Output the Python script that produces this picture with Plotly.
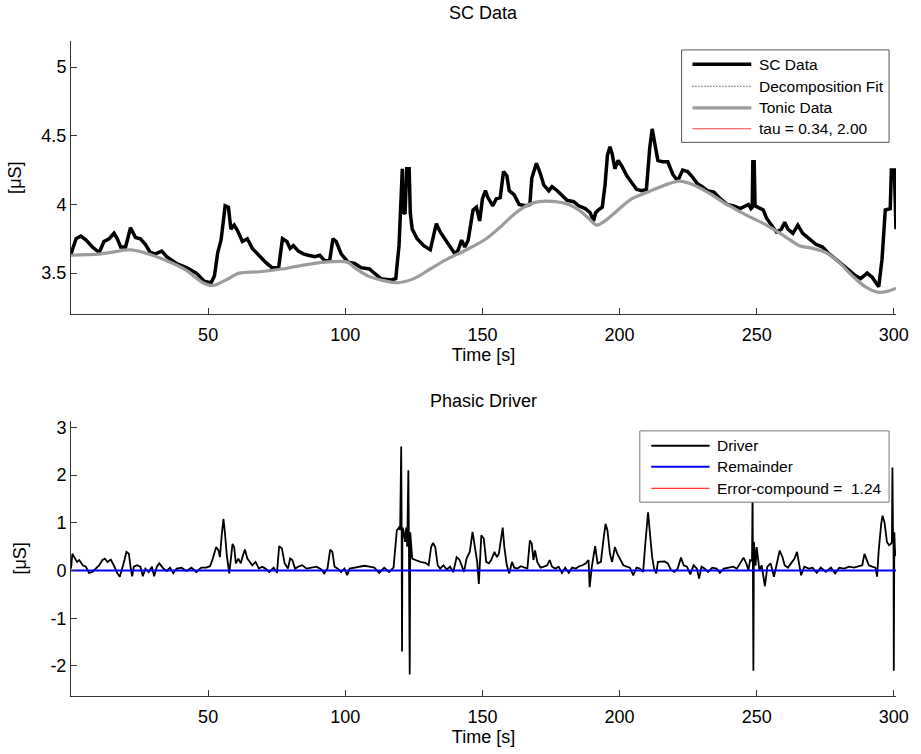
import plotly.graph_objects as go

# ---------------- data ----------------
sc_time = [0, 1.85, 3.6, 5.5, 7.8, 10.3, 12.0, 13.9, 15.7, 16.9, 18.1, 19.9, 21.7, 23.5, 25.3, 27.1,
           28.9, 30.7, 33.1, 34.9, 38.5, 42.1, 45.7, 48.7, 51.1, 52.3, 53.5, 54.7, 55.5, 56.2, 57.4,
           58.3, 59.5, 60.7, 62.5, 64.3, 66.1, 68.5, 70.9, 73.3, 75.7, 77.1, 78.7, 79.9, 81.1, 82.9,
           84.7, 86.5, 88.9, 90.7, 92.5, 94.3, 95.5, 96.7, 98.5, 101.0, 103.4, 105.8, 108.8, 110.6,
           113.0, 116.6, 118.4, 119.6, 120.5, 120.8, 121.1, 121.8, 122.4, 123.3, 123.7, 124.4, 126.2,
           128.6, 131.0, 132.2, 133.2, 134.6, 136.4, 138.2, 140.0, 141.2, 142.4, 143.6, 144.8, 146.6,
           147.8, 149.0, 150.0, 151.1, 152.0, 153.8, 155.0, 156.5, 157.7, 158.9, 159.8, 161.6, 163.4,
           165.8, 167.3, 168.0, 169.7, 171.2, 172.4, 174.2, 175.4, 177.3, 179.0, 180.9, 183.3, 185.1,
           187.5, 189.3, 190.5, 191.3, 192.3, 193.7, 194.7, 195.6, 196.5, 197.3, 198.3, 199.5, 200.8,
           202.6, 204.4, 206.2, 208.0, 209.8, 211.0, 211.9, 212.8, 214.0, 215.8, 217.6, 219.4, 221.2,
           223.0, 224.8, 226.6, 228.4, 230.2, 232.0, 234.4, 236.8, 239.2, 241.6, 244.0, 245.8, 247.0,
           247.9, 248.4, 248.6, 249.1, 249.4, 250.6, 252.4, 253.6, 255.4, 257.2, 259.0, 260.2, 261.4,
           263.2, 265.0, 266.8, 269.2, 271.6, 274.0, 276.4, 278.9, 281.3, 283.7, 286.1, 287.9, 290.3,
           292.1, 294.5, 295.7, 296.9, 298.7, 299.1, 300.2, 300.5, 300.8]
sc_data = [3.64, 3.75, 3.77, 3.74, 3.69, 3.65, 3.73, 3.75, 3.79, 3.75, 3.69, 3.69, 3.83, 3.76, 3.75, 3.71,
           3.65, 3.64, 3.66, 3.62, 3.57, 3.54, 3.50, 3.44, 3.43, 3.48, 3.65, 3.74, 3.87, 3.99, 3.98,
           3.82, 3.85, 3.81, 3.73, 3.75, 3.68, 3.63, 3.58, 3.54, 3.54, 3.75, 3.73, 3.68, 3.70, 3.66,
           3.64, 3.63, 3.62, 3.63, 3.59, 3.59, 3.75, 3.73, 3.64, 3.58, 3.57, 3.54, 3.53, 3.50,
           3.46, 3.45, 3.46, 3.70, 4.26, 4.26, 3.95, 3.93, 4.26, 4.26, 3.94, 3.82, 3.75,
           3.70, 3.67, 3.77, 3.86, 3.80, 3.75, 3.69, 3.64, 3.67, 3.74, 3.69, 3.74, 3.96,
           3.98, 3.88, 4.04, 4.10, 4.05, 3.99, 4.04, 4.05, 4.24, 4.21, 4.10, 4.07, 4.00,
           3.99, 4.00, 4.19, 4.30, 4.22, 4.14, 4.10, 4.13, 4.10, 4.07, 4.03, 4.02, 3.99,
           3.97, 3.94, 3.88, 3.94, 3.96, 3.98, 4.14, 4.36, 4.42, 4.37, 4.26, 4.32, 4.28,
           4.21, 4.16, 4.11, 4.10, 4.11, 4.41, 4.55, 4.45, 4.32, 4.31, 4.31, 4.22, 4.17,
           4.25, 4.24, 4.20, 4.15, 4.13, 4.10, 4.09, 4.04, 4.00, 3.99, 3.97, 3.99, 4.00,
           3.97, 3.98, 4.31, 4.31, 3.99, 3.98, 3.96, 3.90, 3.85, 3.80, 3.82, 3.87, 3.82,
           3.79, 3.85, 3.79, 3.75, 3.71, 3.69, 3.64, 3.60, 3.56, 3.52, 3.48, 3.46, 3.50,
           3.47, 3.40, 3.60, 3.96, 3.97, 4.25, 4.25, 3.85, 3.82]

tonic_time = [0, 10.9, 21.7, 26.5, 34.9, 42.1, 48.1, 51.7, 56.5, 61.3, 68.5, 76.9, 85.3, 92.5, 100.9,
              103.4, 108.2, 113.0, 119.0, 125.0, 131.0, 137.0, 144.2, 151.4, 156.2, 162.2, 167.0,
              170.6, 176.6, 181.5, 185.1, 188.7, 191.7, 194.7, 198.3, 204.4, 210.4, 216.4, 221.8,
              226.0, 232.0, 239.2, 246.4, 253.6, 260.8, 265.6, 270.4, 275.2, 280.0, 284.9, 289.7,
              294.5, 298.1, 300.8]
tonic_data = [3.63, 3.64, 3.67, 3.65, 3.59, 3.52, 3.43, 3.41, 3.45, 3.50, 3.51, 3.53, 3.56, 3.58, 3.58,
              3.54, 3.48, 3.45, 3.43, 3.46, 3.53, 3.60, 3.67, 3.75, 3.83, 3.94, 4.00,
              4.02, 4.02, 4.00, 3.96, 3.90, 3.85, 3.88, 3.94, 4.04, 4.09, 4.14, 4.17,
              4.15, 4.09, 4.00, 3.92, 3.85, 3.76, 3.70, 3.68, 3.65, 3.58, 3.48, 3.40,
              3.36, 3.37, 3.39]

driver_time = [0, 0.5, 1.2, 2.2, 3.0, 4.3, 5.4, 6.6, 7.8, 9.1, 10.3, 11.5, 12.3, 13.3, 14.5, 15.6, 16.9,
               17.8, 18.7, 19.5, 20.2, 21.1, 21.7, 22.3, 22.9, 24.1, 25.3, 26.2, 27.1, 28.3, 29.5, 30.3,
               31.3, 32.2, 33.7, 34.9, 36.1, 37.3, 38.5, 40.3, 42.1, 43.9, 45.7, 47.5, 49.3, 50.7, 51.7,
               52.9, 53.8, 54.3, 55.0, 55.6, 56.2, 56.8, 57.7, 58.3, 58.9, 59.5, 60.1, 61.0, 61.9, 62.7,
               63.4, 64.3, 65.1, 66.1, 67.3, 68.5, 69.7, 70.9, 72.3, 73.9, 75.1, 75.9, 76.9, 77.9, 79.1,
               79.9, 80.7, 81.7, 82.9, 84.3, 85.9, 87.7, 89.5, 91.3, 92.3, 93.5, 94.5, 95.3, 96.1, 97.3,
               98.5, 99.7, 100.7, 101.6, 103.4, 105.2, 107.0, 108.8, 110.6, 112.4, 114.2, 116.0, 117.6,
               118.8, 119.6, 120.0, 120.2, 120.4, 120.55, 120.7, 120.85, 121.2, 121.8, 122.2, 122.6,
               123.0, 123.2, 123.5, 123.7, 124.0, 124.4, 125.6, 127.4, 129.2, 130.4, 131.3, 132.0,
               132.8, 133.7, 134.6, 135.8, 137.0, 138.2, 139.4, 140.6, 141.6, 142.4, 143.3, 144.2,
               145.4, 146.4, 147.2, 148.1, 148.7, 149.0, 149.6, 150.5, 151.4, 152.4, 153.2, 154.4,
               155.3, 156.0, 156.8, 157.4, 158.0, 158.9, 159.8, 160.8, 161.6, 162.8, 164.0, 165.2,
               166.4, 167.3, 168.0, 168.6, 169.2, 170.0, 171.2, 172.4, 173.6, 174.5, 175.4, 176.6,
               177.8, 179.0, 180.2, 181.5, 182.7, 184.1, 185.3, 186.5, 187.7, 188.7, 189.1, 189.9,
               191.1, 192.0, 193.2, 194.1, 194.9, 195.6, 196.5, 197.3, 198.3, 199.2, 200.4, 201.4,
               202.6, 203.8, 205.0, 206.2, 207.4, 208.6, 209.4, 210.4, 211.1, 211.9, 212.6, 213.4,
               214.0, 215.2, 216.4, 217.6, 218.8, 220.0, 221.2, 222.4, 223.4, 224.6, 225.8, 227.0,
               228.2, 229.0, 229.9, 231.1, 232.3, 233.8, 235.4, 236.6, 238.0, 239.8, 241.4, 242.8,
               244.0, 245.2, 246.2, 247.0, 247.6, 248.3, 248.5, 248.65, 248.8, 249.0, 249.3, 249.6,
               250.0, 251.0, 251.8, 253.0, 253.9, 255.1, 256.3, 257.2, 258.4, 259.4, 260.2, 261.4,
               262.6, 263.8, 264.7, 265.4, 266.2, 267.4, 269.0, 270.4, 271.9, 273.4, 275.2, 277.1,
               278.6, 280.1, 281.9, 283.7, 285.5, 287.3, 288.5, 289.3, 290.0, 290.9, 292.1, 293.3,
               293.9, 294.5, 295.4, 295.9, 296.6, 297.5, 298.3, 299.0, 299.3, 299.5, 299.7, 299.9,
               300.0, 300.2, 300.4, 300.7]
driver_data = [0.04, 0.35, 0.28, 0.18, 0.22, 0.11, 0.08, -0.05, -0.03, 0.04, 0.11, 0.22, 0.25, 0.18, 0.23, 0.11, -0.06,
               -0.13, 0.04, 0.22, 0.39, 0.35, 0.08, -0.12, 0.08, 0.11, 0.08, -0.12, 0.04, -0.03, 0.08, -0.12,
               0.08, 0.15, 0.04, -0.01, 0.06, -0.06, 0.04, 0.06, -0.01, 0.06, -0.03, 0.06, 0.06, 0.09, 0.25,
               0.49, 0.42, 0.28, 0.77, 1.08, 0.74, 0.32, -0.06, 0.32, 0.56, 0.49, 0.15, 0.25, 0.15, 0.32,
               0.44, 0.25, 0.18, 0.11, 0.18, 0.04, 0.08, 0.04, -0.03, 0.06, -0.05, 0.51, 0.46, 0.15, 0.04,
               0.25, 0.22, 0.04, 0.08, 0.11, 0.04, 0.06, 0.08, 0.02, -0.06, 0.04, 0.44, 0.39, 0.08, 0.04,
               -0.03, 0.04, -0.10, 0.04, 0.06, 0.08, 0.10, 0.08, 0.06, -0.05, 0.06, -0.03, 0.06,
               0.84, 0.90, 0.85, 1.80, 2.60, 0.90, -1.70, 0.90, 0.85, 0.60, 0.90, 0.50,
               2.10, 0.60, -2.18, 0.80, 0.55, 0.25, 0.22, 0.18, 0.16, 0.11, 0.49, 0.58,
               0.49, 0.11, 0.04, 0.11, 0.02, 0.08, -0.03, 0.28, 0.23, 0.11, -0.03, 0.25,
               0.39, 0.81, 0.49, 0.18, -0.28, 0.15, 0.74, 0.67, 0.18, 0.15, 0.22, 0.39,
               0.28, 0.35, 0.70, 0.90, 0.49, 0.11, -0.06, 0.18, 0.06, 0.04, 0.09, 0.06,
               0.04, 0.63, 0.56, 0.22, 0.42, 0.18, 0.06, 0.08, 0.11, 0.22, 0.08, 0.04,
               0.08, -0.05, 0.06, -0.05, 0.06, 0.04, 0.09, 0.11, 0.15, 0.22, -0.35, 0.08,
               0.51, 0.15, 0.18, 0.63, 0.98, 0.84, 0.35, 0.18, 0.49, 0.35, 0.22, 0.11,
               0.08, 0.06, -0.10, 0.06, 0.04, -0.03, 0.56, 1.22, 0.77, 0.28, 0.04, -0.06,
               0.18, 0.18, 0.19, 0.15, 0.01, -0.03, 0.04, 0.27, 0.11, 0.08, -0.08, 0.11,
               0.04, -0.17, 0.08, 0.04, -0.03, 0.06, 0.04, -0.05, 0.04, 0.06, 0.08, 0.04,
               0.15, 0.27, 0.15, 0.01, 0.22, 0.20, 1.70, -0.10, -2.10, 0.60, 0.30, 0.10,
               0.49, 0.01, 0.11, -0.33, 0.08, 0.15, -0.13, 0.08, 0.42, 0.28, 0.11, 0.06,
               0.15, 0.25, 0.39, 0.11, -0.10, 0.08, 0.04, 0.06, -0.05, 0.06, -0.03, 0.06,
               -0.06, 0.06, 0.04, 0.08, 0.06, 0.09, 0.11, 0.35, 0.25, 0.11, 0.08, 0.06,
               -0.13, 0.42, 0.98, 1.15, 1.01, 0.60, 0.53, 0.56, 0.60, 2.16, 0.80, 0.50,
               -2.10, 0.80, 0.45, 0.30]

remainder_time = [0, 300.8]
remainder_data = [0.0, 0.0]

x_ticks = [50, 100, 150, 200, 250, 300]
y1_ticks = [3.5, 4, 4.5, 5]
y2_ticks = [-2, -1, 0, 1, 2, 3]
y2_ticktext = ["-2", "-1", "0", "1", "2", "3"]

legend1_labels = ["SC Data", "Decomposition Fit", "Tonic Data", "tau = 0.34, 2.00"]
legend2_labels = ["Driver", "Remainder", "Error-compound =\u00a0\u00a01.24"]

# ---------------- figure ----------------
W, H = 921, 754
ML, MR, MT, MB = 71, 15, 41, 54
PW, PH = W - ML - MR, H - MT - MB
FONT = "Liberation Sans, Arial, sans-serif"
TXT = 18


def px_x(px):
    return (px - ML) / PW


def px_y(py):
    return (H - MB - py) / PH


fig = go.Figure()
fig.add_trace(go.Scatter(x=sc_time, y=sc_data, mode="lines", name="SC Data",
                         line=dict(color="black", width=3.5), xaxis="x", yaxis="y"))
fig.add_trace(go.Scatter(x=sc_time, y=sc_data, mode="lines", name="Decomposition Fit",
                         line=dict(color="black", width=1, dash="1px,2px"), xaxis="x", yaxis="y"))
fig.add_trace(go.Scatter(x=tonic_time, y=tonic_data, mode="lines", name="Tonic Data",
                         line=dict(color="#9c9c9c", width=3.2, shape="spline", smoothing=0.9),
                         xaxis="x", yaxis="y"))
fig.add_trace(go.Scatter(x=driver_time, y=driver_data, mode="lines", name="Driver",
                         line=dict(color="black", width=1.8), xaxis="x2", yaxis="y2"))
fig.add_trace(go.Scatter(x=remainder_time, y=remainder_data, mode="lines", name="Remainder",
                         line=dict(color="#0000ff", width=2), xaxis="x2", yaxis="y2"))

top_dom = [px_y(316), 1.0]
bot_dom = [0.0, px_y(423)]

axis_common = dict(showline=True, linecolor="#333333", linewidth=1, mirror=False,
                   ticks="inside", ticklen=6, tickcolor="#333333", showgrid=False,
                   zeroline=False, tickfont=dict(family=FONT, size=TXT, color="black"))

fig.update_layout(
    width=W, height=H, plot_bgcolor="white", paper_bgcolor="white",
    margin=dict(l=ML, r=MR, t=MT, b=MB), showlegend=False,
    font=dict(family=FONT, color="black"),
    xaxis=dict(domain=[0, 1], anchor="y", range=[0, 300.8], tickvals=x_ticks,
               ticklabelstandoff=4,
               title=dict(text="Time [s]", font=dict(family=FONT, size=TXT), standoff=3),
               **axis_common),
    yaxis=dict(domain=top_dom, anchor="x", range=[3.2, 5.19], tickvals=y1_ticks,
               title=dict(text="[\u03bcS]", font=dict(family=FONT, size=TXT), standoff=15),
               **axis_common),
    xaxis2=dict(domain=[0, 1], anchor="y2", range=[0, 300.8], tickvals=x_ticks,
                ticklabelstandoff=4,
                title=dict(text="Time [s]", font=dict(family=FONT, size=TXT), standoff=3),
                **axis_common),
    yaxis2=dict(domain=bot_dom, anchor="x2", range=[-2.63, 3.14], tickvals=y2_ticks,
                ticktext=y2_ticktext,
                title=dict(text="[\u03bcS]", font=dict(family=FONT, size=TXT), standoff=19),
                **axis_common),
)

# subplot titles
fig.add_annotation(text="SC Data", xref="paper", yref="paper", x=0.5, y=px_y(13),
                   xanchor="center", yanchor="middle", showarrow=False,
                   font=dict(family=FONT, size=TXT, color="black"))
fig.add_annotation(text="Phasic Driver", xref="paper", yref="paper", x=0.5, y=px_y(403),
                   xanchor="center", yanchor="middle", showarrow=False,
                   font=dict(family=FONT, size=TXT, color="black"))

# ---------------- legends (drawn) ----------------
shapes = []
LEG_FONT = dict(family=FONT, size=15.5, color="black")

# top legend
shapes.append(dict(type="rect", xref="paper", yref="paper", layer="above",
                   x0=px_x(689), x1=px_x(899), y0=px_y(143), y1=px_y(50),
                   fillcolor="white", line=dict(color="#555555", width=1)))
leg1_styles = [dict(color="black", width=3.5), dict(color="black", width=1, dash="1px,2px"),
               dict(color="#9c9c9c", width=3.2), dict(color="#ff4040", width=1)]
leg1_rows = [64.5, 86.5, 108.3, 129.3]
for lab, st, ry in zip(legend1_labels, leg1_styles, leg1_rows):
    shapes.append(dict(type="line", xref="paper", yref="paper", layer="above",
                       x0=px_x(700), x1=px_x(759.5), y0=px_y(ry), y1=px_y(ry), line=st))
    fig.add_annotation(text=lab, xref="paper", yref="paper", x=px_x(765), y=px_y(ry),
                       xanchor="left", yanchor="middle", showarrow=False, font=LEG_FONT)

# bottom legend
shapes.append(dict(type="rect", xref="paper", yref="paper", layer="above",
                   x0=px_x(646.7), x1=px_x(899), y0=px_y(505), y1=px_y(433.3),
                   fillcolor="white", line=dict(color="#777777", width=1)))
leg2_styles = [dict(color="black", width=2), dict(color="#0000ff", width=2),
               dict(color="#ff0000", width=1)]
leg2_rows = [448.3, 469.3, 491]
for lab, st, ry in zip(legend2_labels, leg2_styles, leg2_rows):
    shapes.append(dict(type="line", xref="paper", yref="paper", layer="above",
                       x0=px_x(658.3), x1=px_x(717.3), y0=px_y(ry), y1=px_y(ry), line=st))
    fig.add_annotation(text=lab, xref="paper", yref="paper", x=px_x(722.5), y=px_y(ry),
                       xanchor="left", yanchor="middle", showarrow=False, font=LEG_FONT)

fig.update_layout(shapes=shapes)
fig.write_html("out.html", config={"displayModeBar": False},
               post_script="document.body.style.margin='0';")
